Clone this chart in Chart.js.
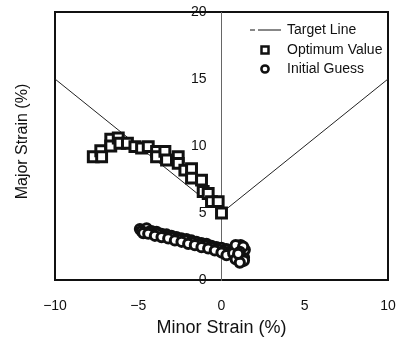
<!DOCTYPE html>
<html>
<head>
<meta charset="utf-8">
<script src="https://cdn.jsdelivr.net/npm/chart.js@4/dist/chart.umd.min.js"></script>
<style>
  body { margin: 0; background: #fff; }
  #chart { display: block; }
</style>
</head>
<body>
<canvas id="chart" width="403" height="341"></canvas>
<script>
// series names (legend order)
const seriesNames = ['Target Line', 'Optimum Value', 'Initial Guess'];

// target line (forming limit style V)
const targetX = [-10, 0, 10];
const targetY = [15, 5, 15];

// optimum value - squares
const optimumX = [-7.7, -7.25, -7.2, -6.65, -6.65, -6.2, -6.1, -5.65, -5.2, -4.8, -4.4, -3.9, -3.9, -3.4, -3.3, -2.6, -2.6, -2.2, -1.8, -1.8, -1.2, -1.1, -0.8, -0.6, -0.2, 0.0];
const optimumY = [9.2, 9.65, 9.2, 10.5, 10.0, 10.6, 10.2, 10.2, 9.95, 9.85, 9.95, 9.6, 9.2, 9.6, 8.95, 9.2, 8.7, 8.2, 8.3, 7.6, 7.45, 6.6, 6.45, 5.85, 5.85, 5.0];

// initial guess - circles (upper row, middle row, lower row, end cluster)
const guessX = [-4.9, -4.5, -4.2, -3.9, -3.6, -3.3, -3.0, -2.7, -2.4, -2.1, -1.8, -1.5, -1.2, -0.9, -0.6, -0.3, 0.0, 0.3, 0.6,
                -4.8, -4.35, -3.85, -3.45, -3.05, -2.6, -2.2, -1.75, -1.35, -0.95, -0.55, -0.15, 0.2, 0.5,
                -4.7, -4.4, -4.0, -3.6, -3.2, -2.8, -2.4, -2.0, -1.6, -1.2, -0.8, -0.4, 0.0, 0.3,
                0.8, 1.0, 1.2, 1.3, 1.1, 0.9, 1.2, 1.0, 1.35, 0.7, 1.4, 1.25, 0.95, 1.15,
                0.85, 1.3, 1.35, 0.85, 1.1, 1.1, 1.0];
const guessY = [3.8, 3.85, 3.65, 3.6, 3.45, 3.4, 3.3, 3.2, 3.1, 3.05, 2.95, 2.85, 2.75, 2.7, 2.55, 2.45, 2.4, 2.3, 2.2,
                3.65, 3.6, 3.45, 3.3, 3.2, 3.05, 2.95, 2.8, 2.65, 2.55, 2.4, 2.25, 2.1, 2.0,
                3.5, 3.45, 3.3, 3.2, 3.1, 2.95, 2.85, 2.7, 2.6, 2.45, 2.35, 2.2, 2.05, 1.85,
                2.2, 2.4, 2.3, 2.0, 1.8, 1.9, 1.6, 1.5, 1.7, 2.0, 2.25, 1.4, 2.55, 2.6,
                2.6, 2.5, 1.45, 1.55, 1.3, 2.1, 1.95];

// axes
const xTickLabels = ['\u221210', '\u22125', '0', '5', '10'];
const xTickValues = [-10, -5, 0, 5, 10];
const xTitle = 'Minor Strain (%)';
const yTitle = '  Major Strain (%)';

const ink = '#111';
Chart.defaults.font.family = "'Liberation Sans', Arial, sans-serif";
Chart.defaults.color = ink;

function toPoints(xs, ys) {
  return xs.map((x, i) => ({ x: x, y: ys[i] }));
}

// legend drawn inside the plot, top right
const legendBox = {
  id: 'legendBox',
  afterDraw(chart) {
    const ctx = chart.ctx;
    const markX = 265, textX = 287;
    const rows = [30, 50, 69];
    ctx.save();
    ctx.font = "14px 'Liberation Sans', Arial, sans-serif";
    ctx.fillStyle = ink;
    ctx.textBaseline = 'middle';
    ctx.textAlign = 'left';
    // target line sample: short dash + long dash
    ctx.strokeStyle = ink;
    ctx.lineWidth = 1;
    ctx.beginPath();
    ctx.moveTo(250, rows[0]); ctx.lineTo(255, rows[0]);
    ctx.moveTo(258, rows[0]); ctx.lineTo(281, rows[0]);
    ctx.stroke();
    // square
    ctx.lineWidth = 2.5;
    ctx.strokeRect(markX - 3.5, rows[1] - 3.5, 7, 7);
    // circle
    ctx.beginPath();
    ctx.arc(markX, rows[2], 3.6, 0, Math.PI * 2);
    ctx.stroke();
    seriesNames.forEach((name, i) => ctx.fillText(name, textX, rows[i]));
    ctx.restore();
  }
};

const frameBorder = { display: true, width: 2, color: ink };
const noGrid = { display: false, drawTicks: false };
const noPad = s => { s.paddingTop = 0; s.paddingBottom = 0; s.paddingLeft = 0; s.paddingRight = 0; };

new Chart(document.getElementById('chart'), {
  type: 'scatter',
  data: {
    datasets: [
      {
        label: seriesNames[1],
        data: toPoints(optimumX, optimumY),
        pointStyle: 'rect',
        pointRadius: 7,
        borderWidth: 3,
        borderColor: ink,
        backgroundColor: '#fff'
      },
      {
        label: seriesNames[2],
        data: toPoints(guessX, guessY),
        pointStyle: 'circle',
        pointRadius: 4.6,
        borderWidth: 3,
        borderColor: ink,
        backgroundColor: '#fff'
      },
      {
        label: seriesNames[0],
        data: toPoints(targetX, targetY),
        showLine: true,
        pointRadius: 0,
        borderWidth: 1,
        borderColor: '#222'
      }
    ]
  },
  options: {
    responsive: false,
    animation: false,
    plugins: { legend: { display: false }, tooltip: { enabled: false } },
    scales: {
      x: {
        type: 'linear', position: 'bottom', min: -10, max: 10,
        afterBuildTicks: s => { s.ticks = xTickValues.map(v => ({ value: v })); },
        ticks: {
          font: { size: 14 }, padding: 18, maxRotation: 0,
          callback: v => xTickLabels[xTickValues.indexOf(v)]
        },
        grid: noGrid,
        border: frameBorder,
        title: { display: true, text: xTitle, font: { size: 18 }, padding: { top: 0, bottom: 2 } },
        afterFit: s => { s.height = 61; noPad(s); }
      },
      xTop: {
        type: 'linear', position: 'top', min: -10, max: 10,
        ticks: { display: false }, grid: noGrid, border: frameBorder,
        afterFit: s => { s.height = 12; noPad(s); }
      },
      y: {
        type: 'linear', position: 'left', min: 0, max: 20,
        ticks: { display: false }, grid: noGrid, border: frameBorder,
        title: { display: true, text: yTitle, font: { size: 16 }, padding: { top: 13, bottom: 0 } },
        afterFit: s => { s.width = 55; noPad(s); }
      },
      yRight: {
        type: 'linear', position: 'right', min: 0, max: 20,
        ticks: { display: false }, grid: noGrid, border: frameBorder,
        afterFit: s => { s.width = 15; noPad(s); }
      },
      // dashed vertical line at minor strain = 0
      yMid: {
        type: 'linear', position: { x: 0 }, min: 0, max: 20,
        ticks: { display: false },
        grid: noGrid,
        border: { display: true, width: 1, color: '#666', dash: [2, 3] },
        afterFit: noPad
      },
      // major strain tick labels just left of that line
      yLab: {
        type: 'linear', position: { x: -0.9 }, min: 0, max: 20,
        ticks: { stepSize: 5, font: { size: 14 } },
        grid: noGrid,
        border: { display: false },
        afterFit: noPad
      }
    }
  },
  plugins: [legendBox]
});
</script>
</body>
</html>
